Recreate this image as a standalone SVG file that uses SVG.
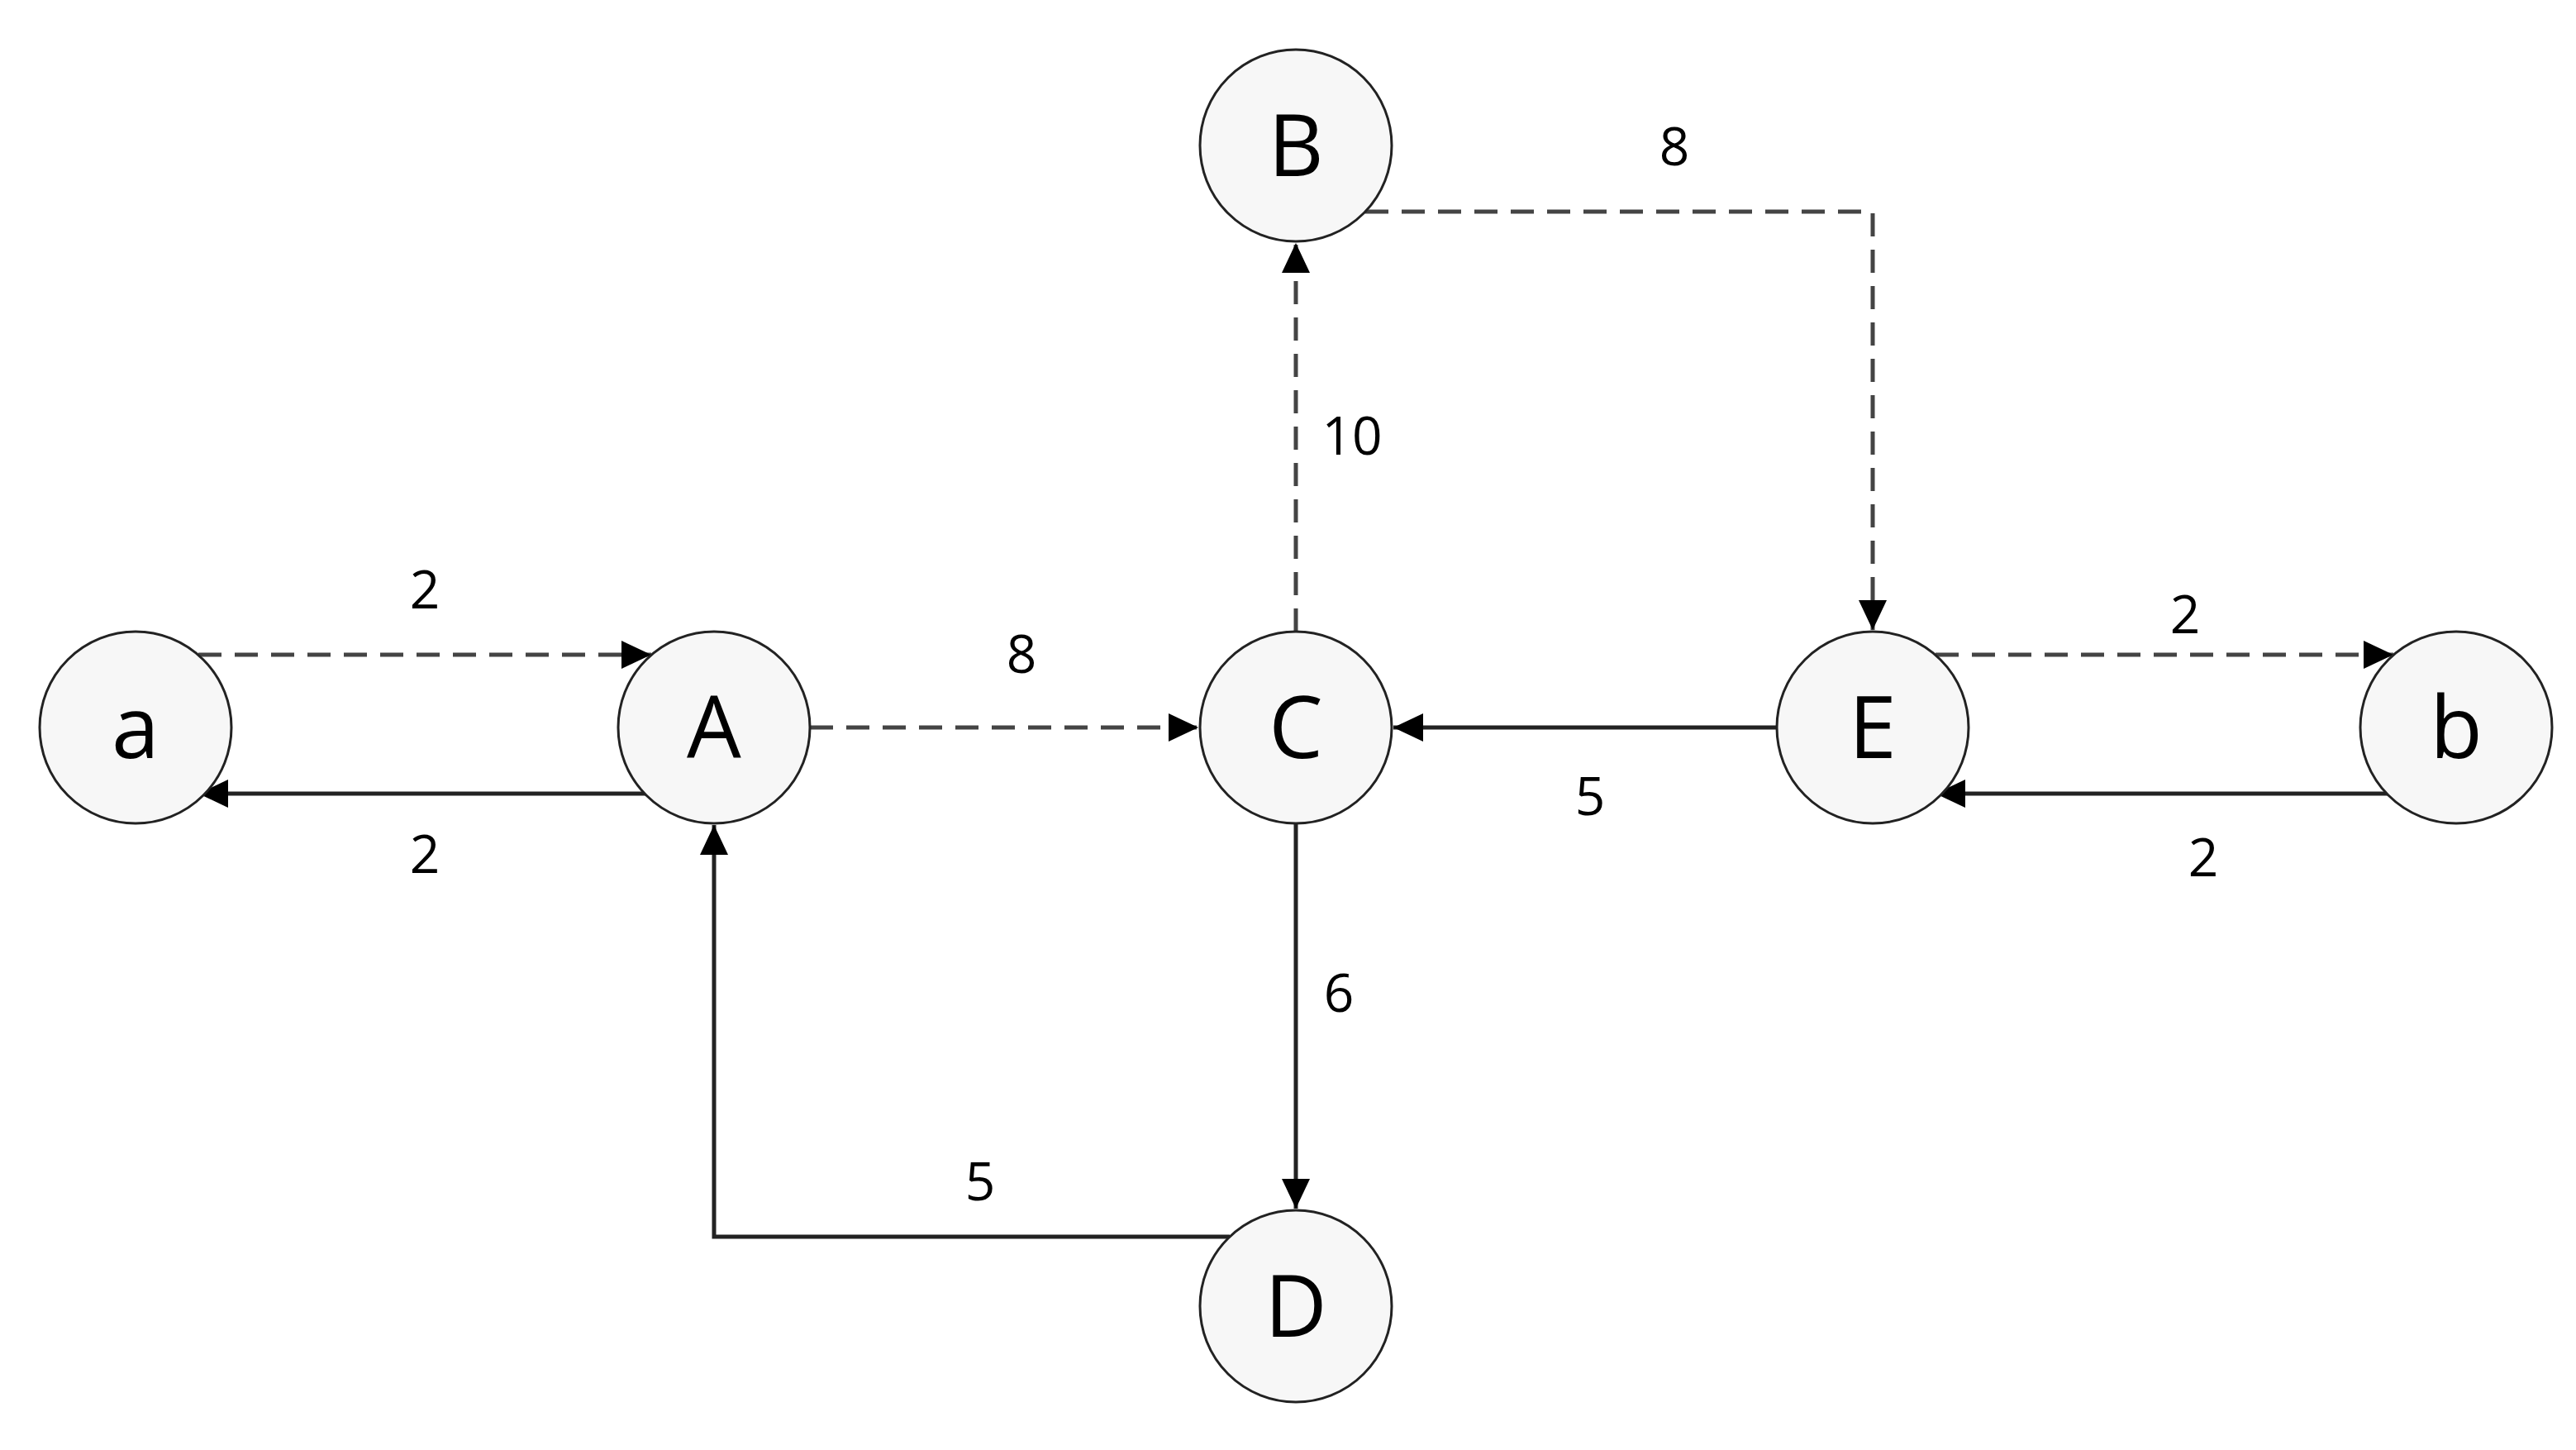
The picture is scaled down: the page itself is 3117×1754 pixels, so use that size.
<svg xmlns="http://www.w3.org/2000/svg" width="3117" height="1754" viewBox="0 0 3117 1754">
<style>
.n{fill:#f7f7f7;stroke:#222;stroke-width:3}
.nt{font-family:"Open Sans","Liberation Sans",sans-serif;font-size:104px;text-anchor:middle;fill:#000}
.l{font-family:"Open Sans","Liberation Sans",sans-serif;font-size:64px;text-anchor:middle;fill:#000}
.e{fill:none;stroke:#222;stroke-width:5}
.d{stroke-dasharray:28 16;stroke:#444}
</style>
<defs><marker id="ar" markerUnits="userSpaceOnUse" markerWidth="40" markerHeight="40" viewBox="0 0 40 40" refX="38" refY="20" orient="auto"><path d="M2,3 L38,20 L2,37 Z" fill="#000"/></marker></defs>
<rect width="3117" height="1754" fill="#fff"/>
<g id="connectors">
<path class="e d" d="M240,792 H788" marker-end="url(#ar)"/>
<path class="e" d="M788,960 H240" marker-end="url(#ar)"/>
<path class="e d" d="M980,880 H1450" marker-end="url(#ar)"/>
<path class="e d" d="M1568,764 V294" marker-end="url(#ar)"/>
<path class="e d" d="M1652,256 H2266 V762" marker-end="url(#ar)"/>
<path class="e" d="M2150,880 H1686" marker-end="url(#ar)"/>
<path class="e d" d="M2342,792 H2896" marker-end="url(#ar)"/>
<path class="e" d="M2896,960 H2342" marker-end="url(#ar)"/>
<path class="e" d="M1568,996 V1462" marker-end="url(#ar)"/>
<path class="e" d="M1488,1496 H864 V998" marker-end="url(#ar)"/>
<text class="l" x="514" y="736">2</text>
<text class="l" x="514" y="1056">2</text>
<text class="l" x="1236" y="814">8</text>
<text class="l" x="1636" y="550">10</text>
<text class="l" x="2026" y="200">8</text>
<text class="l" x="1924" y="986">5</text>
<text class="l" x="2644" y="766">2</text>
<text class="l" x="2666" y="1060">2</text>
<text class="l" x="1620" y="1224">6</text>
<text class="l" x="1186" y="1452">5</text>
</g>
<g id="a"><circle class="n" cx="164" cy="880" r="116"/><text class="nt" x="164" y="917">a</text></g>
<g id="A"><circle class="n" cx="864" cy="880" r="116"/><text class="nt" x="864" y="917">A</text></g>
<g id="C"><circle class="n" cx="1568" cy="880" r="116"/><text class="nt" x="1568" y="917">C</text></g>
<g id="E"><circle class="n" cx="2266" cy="880" r="116"/><text class="nt" x="2266" y="917">E</text></g>
<g id="b"><circle class="n" cx="2972" cy="880" r="116"/><text class="nt" x="2972" y="917">b</text></g>
<g id="B"><circle class="n" cx="1568" cy="176" r="116"/><text class="nt" x="1568" y="213">B</text></g>
<g id="D"><circle class="n" cx="1568" cy="1580" r="116"/><text class="nt" x="1568" y="1617">D</text></g>
</svg>
